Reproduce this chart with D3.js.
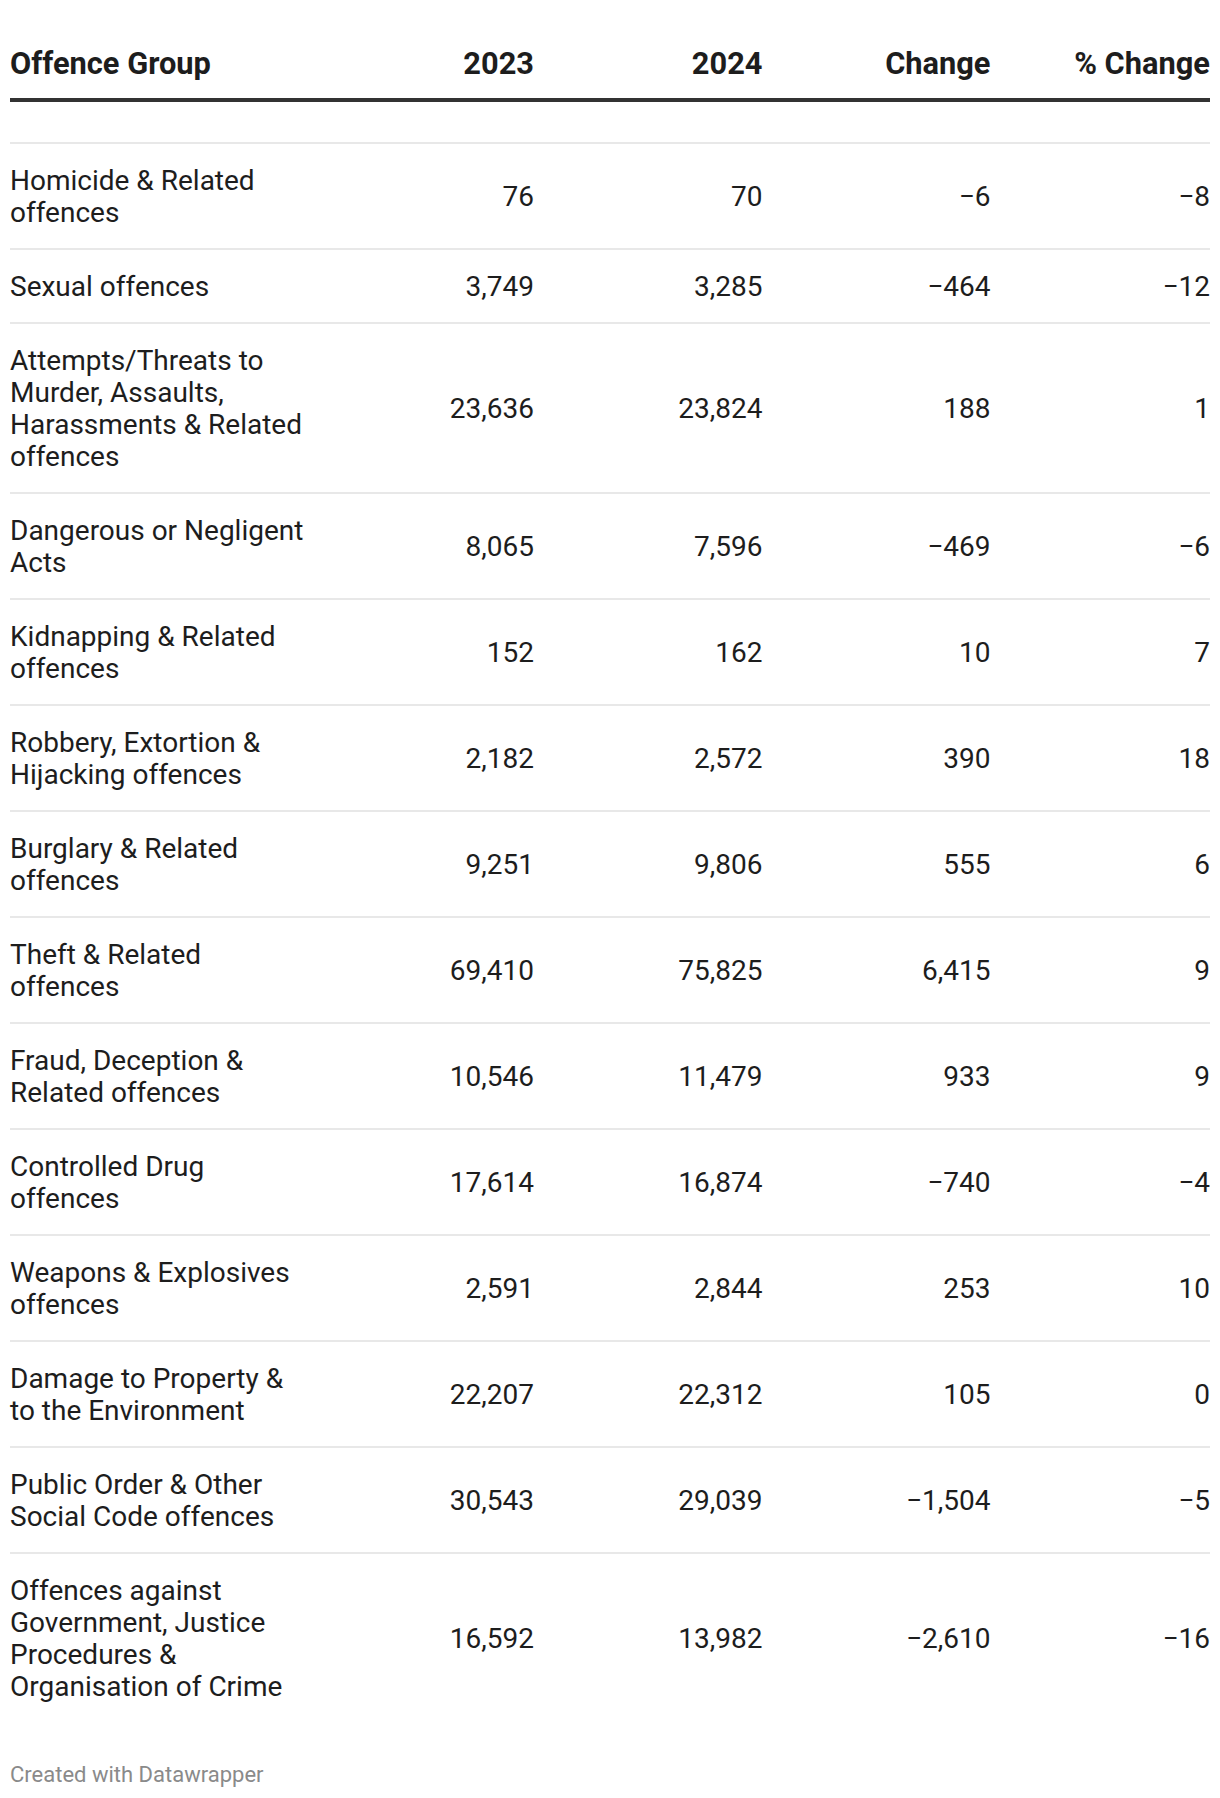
<!DOCTYPE html>
<html>
<head>
<meta charset="utf-8">
<script src="https://cdn.jsdelivr.net/npm/d3@7"></script>
<style>
  html, body { margin: 0; padding: 0; background: #ffffff; }
  svg { display: block; }
  text { font-family: Roboto, "Noto Sans", sans-serif; }
</style>
</head>
<body>
<div id="chart"></div>
<script>
// ---- data ----
const columns = ["Offence Group", "2023", "2024", "Change", "% Change"];
const categories = [
  "Homicide & Related\noffences",
  "Sexual offences",
  "Attempts/Threats to\nMurder, Assaults,\nHarassments & Related\noffences",
  "Dangerous or Negligent\nActs",
  "Kidnapping & Related\noffences",
  "Robbery, Extortion &\nHijacking offences",
  "Burglary & Related\noffences",
  "Theft & Related\noffences",
  "Fraud, Deception &\nRelated offences",
  "Controlled Drug\noffences",
  "Weapons & Explosives\noffences",
  "Damage to Property &\nto the Environment",
  "Public Order & Other\nSocial Code offences",
  "Offences against\nGovernment, Justice\nProcedures &\nOrganisation of Crime"
];
const values2023 = [76, 3749, 23636, 8065, 152, 2182, 9251, 69410, 10546, 17614, 2591, 22207, 30543, 16592];
const values2024 = [70, 3285, 23824, 7596, 162, 2572, 9806, 75825, 11479, 16874, 2844, 22312, 29039, 13982];
const changes    = [-6, -464, 188, -469, 10, 390, 555, 6415, 933, -740, 253, 105, -1504, -2610];
const pctChanges = [-8, -12, 1, -6, 7, 18, 6, 9, 9, -4, 10, 0, -5, -16];
const footerText = "Created with Datawrapper";

// ---- layout ----
const W = 1220, H = 1798;
const bodySize = 28, headSize = 30.8, footSize = 22;
const lineH = 32, rowPad = 42;
const tableTop = 143;

const rows = categories.map((c, i) => ({
  lines: c.split("\n"),
  vals: [values2023[i], values2024[i], changes[i], pctChanges[i]]
}));
let acc = tableTop;
rows.forEach(r => { r.h = r.lines.length * lineH + rowPad; r.y0 = acc; acc += r.h; });

const x = d3.scaleOrdinal().domain(columns).range([10, 534, 762.5, 990.5, 1210]);
const anchor = d3.scaleOrdinal().domain(columns).range(["start", "end", "end", "end", "end"]);
const fmt = d3.format(",");

const svg = d3.select("#chart").append("svg").attr("width", W).attr("height", H);

// header
svg.append("g").selectAll("text").data(columns).join("text")
  .attr("x", d => x(d)).attr("y", 63).attr("dy", "0.35em")
  .attr("text-anchor", d => anchor(d))
  .attr("font-size", headSize).attr("font-weight", 700).attr("fill", "#1d1d1d")
  .text(d => d);

svg.append("line").attr("x1", 10).attr("x2", 1210).attr("y1", 100).attr("y2", 100)
  .attr("stroke", "#333333").attr("stroke-width", 4);

// rows
const rg = svg.append("g").selectAll("g").data(rows).join("g")
  .attr("transform", d => `translate(0,${d.y0})`);

rg.append("line").attr("x1", 10).attr("x2", 1210).attr("y1", 0).attr("y2", 0)
  .attr("stroke", "#e8e8e8").attr("stroke-width", 2);

rg.append("text")
  .attr("font-size", bodySize).attr("fill", "#1d1d1d")
  .selectAll("tspan").data(d => d.lines.map((l, i) => ({ l, i, n: d.lines.length, h: d.h }))).join("tspan")
  .attr("x", x(columns[0]))
  .attr("y", d => d.h / 2 + (d.i - (d.n - 1) / 2) * lineH)
  .attr("dy", "0.35em")
  .text(d => d.l);

rg.selectAll("text.num").data(d => d.vals.map((v, j) => ({ v, col: columns[j + 1], h: d.h }))).join("text")
  .attr("class", "num")
  .attr("x", d => x(d.col)).attr("y", d => d.h / 2).attr("dy", "0.35em")
  .attr("text-anchor", d => anchor(d.col))
  .attr("font-size", bodySize).attr("fill", "#1d1d1d")
  .text(d => fmt(d.v));

// footer
svg.append("text").attr("x", 10).attr("y", 1774).attr("dy", "0.35em")
  .attr("font-size", footSize).attr("fill", "#8a8a8a")
  .text(footerText);
</script>
</body>
</html>
